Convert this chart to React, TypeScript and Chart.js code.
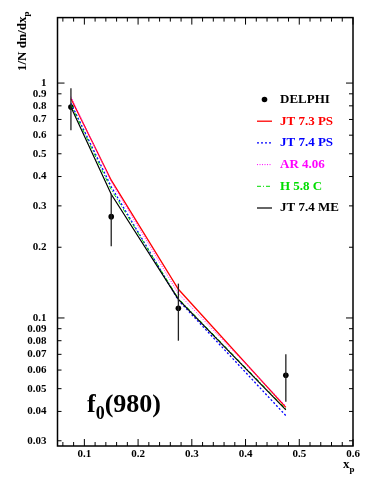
import { useEffect, useRef } from "react";
import { Chart, registerables } from "chart.js";

Chart.register(...registerables);

const xValues = [0.075, 0.15, 0.275, 0.475];
const delphi = [0.79, 0.27, 0.11, 0.057];
const delphiErr = [0.16, 0.068, 0.03, 0.013];
const jt73ps = [0.86, 0.386, 0.1325, 0.0416];
const jt74ps = [0.82, 0.362, 0.119, 0.0384];
const ar406 = [0.875, 0.38, 0.127, 0.0422];
const h58c = [0.81, 0.352, 0.121, 0.041];
const jt74me = [0.79, 0.336, 0.12, 0.0406];

const xTickLabels = [0.1, 0.2, 0.3, 0.4, 0.5, 0.6];
const yTickLabels = [0.03, 0.04, 0.05, 0.06, 0.07, 0.08, 0.09, 0.1, 0.2, 0.3, 0.4, 0.5, 0.6, 0.7, 0.8, 0.9, 1];
const xMinorTicks = [0.06, 0.08, 0.12, 0.14, 0.16, 0.18, 0.22, 0.24, 0.26, 0.28, 0.32, 0.34, 0.36, 0.38, 0.42, 0.44, 0.46, 0.48, 0.52, 0.54, 0.56, 0.58];
const yMajorTicks = [0.1, 1];

const SERIF = "'Liberation Serif', 'DejaVu Serif', serif";

const legendItems = [
  { label: "DELPHI", color: "#000000", kind: "point", dash: [] as number[], width: 1 },
  { label: "JT 7.3 PS", color: "#ff0000", kind: "line", dash: [] as number[], width: 1.3 },
  { label: "JT 7.4 PS", color: "#0000ff", kind: "line", dash: [2, 2], width: 1.3 },
  { label: "AR 4.06", color: "#ff00ff", kind: "line", dash: [1, 1.5], width: 1 },
  { label: "H 5.8 C", color: "#00dd00", kind: "line", dash: [4, 2, 1, 2], width: 1 },
  { label: "JT 7.4 ME", color: "#000000", kind: "line", dash: [] as number[], width: 1.2 },
];

const toPts = (ys: number[]) => xValues.map((x, i) => ({ x, y: ys[i] }));

const framePlugin = {
  id: "framePlugin",
  afterDatasetsDraw(chart: any) {
    const ctx = chart.ctx as CanvasRenderingContext2D;
    const { left, right, top, bottom } = chart.chartArea;
    const xs = chart.scales.x;
    const ys = chart.scales.y;
    ctx.save();
    // error bars
    ctx.strokeStyle = "#222";
    ctx.lineWidth = 1.3;
    xValues.forEach((x, i) => {
      const px = xs.getPixelForValue(x);
      ctx.beginPath();
      ctx.moveTo(px, ys.getPixelForValue(delphi[i] + delphiErr[i]));
      ctx.lineTo(px, ys.getPixelForValue(delphi[i] - delphiErr[i]));
      ctx.stroke();
    });
    // frame
    ctx.strokeStyle = "#000";
    ctx.lineWidth = 1.5;
    ctx.strokeRect(left, top, right - left, bottom - top);
    ctx.lineWidth = 1;
    // x ticks
    const drawX = (v: number, len: number) => {
      const px = xs.getPixelForValue(v);
      ctx.beginPath();
      ctx.moveTo(px, bottom);
      ctx.lineTo(px, bottom - len);
      ctx.moveTo(px, top);
      ctx.lineTo(px, top + len);
      ctx.stroke();
    };
    xTickLabels.forEach((v) => drawX(v, 7));
    xMinorTicks.forEach((v) => drawX(v, 4));
    const drawY = (v: number, len: number) => {
      const py = ys.getPixelForValue(v);
      ctx.beginPath();
      ctx.moveTo(left, py);
      ctx.lineTo(left + len, py);
      ctx.moveTo(right, py);
      ctx.lineTo(right - len, py);
      ctx.stroke();
    };
    yTickLabels.forEach((v) => drawY(v, yMajorTicks.includes(v) ? 7 : 4));

    // legend
    const lx0 = 257;
    const lx1 = 272;
    const tx = 280;
    let ly = 99.5;
    ctx.font = `bold 13px ${SERIF}`;
    ctx.textBaseline = "middle";
    ctx.textAlign = "left";
    legendItems.forEach((it) => {
      if (it.kind === "point") {
        ctx.fillStyle = it.color;
        ctx.beginPath();
        ctx.arc((lx0 + lx1) / 2, ly, 2.8, 0, Math.PI * 2);
        ctx.fill();
      } else {
        ctx.strokeStyle = it.color;
        ctx.lineWidth = it.width;
        ctx.setLineDash(it.dash);
        ctx.beginPath();
        ctx.moveTo(lx0, ly);
        ctx.lineTo(lx1, ly);
        ctx.stroke();
        ctx.setLineDash([]);
      }
      ctx.fillStyle = it.color;
      ctx.fillText(it.label, tx, ly);
      ly += 21.7;
    });

    // y title
    ctx.save();
    ctx.translate(26, 71);
    ctx.rotate(-Math.PI / 2);
    ctx.textBaseline = "alphabetic";
    ctx.fillStyle = "#000";
    ctx.font = `bold 13px ${SERIF}`;
    const yt = "1/N dn/dx";
    ctx.fillText(yt, 0, 0);
    const w = ctx.measureText(yt).width;
    ctx.font = `bold 9px ${SERIF}`;
    ctx.fillText("p", w, 3);
    ctx.restore();

    // x title
    ctx.textBaseline = "alphabetic";
    ctx.fillStyle = "#000";
    ctx.font = `bold 13px ${SERIF}`;
    ctx.fillText("x", 343, 468);
    ctx.font = `bold 9px ${SERIF}`;
    ctx.fillText("p", 349.5, 472);

    // f0(980)
    ctx.font = `bold 26px ${SERIF}`;
    ctx.fillText("f", 87, 412);
    const fw = ctx.measureText("f").width;
    ctx.font = `bold 18px ${SERIF}`;
    ctx.fillText("0", 87 + fw, 419);
    const zw = ctx.measureText("0").width;
    ctx.font = `bold 26px ${SERIF}`;
    ctx.fillText("(980)", 87 + fw + zw, 412);

    ctx.restore();
  },
};

export default function App() {
  const ref = useRef<HTMLCanvasElement | null>(null);
  useEffect(() => {
    if (!ref.current) return;
    const chart = new Chart(ref.current, {
      type: "line",
      data: {
        datasets: [
          {
            label: "JT 7.4 ME",
            data: toPts(jt74me),
            borderColor: "#000000",
            borderWidth: 1.2,
            pointRadius: 0,
            fill: false,
          },
          {
            label: "H 5.8 C",
            data: toPts(h58c),
            borderColor: "#00dd00",
            borderWidth: 1,
            borderDash: [4, 2, 1, 2],
            pointRadius: 0,
            fill: false,
          },
          {
            label: "AR 4.06",
            data: toPts(ar406),
            borderColor: "#ff00ff",
            borderWidth: 1,
            borderDash: [1, 1.5],
            pointRadius: 0,
            fill: false,
          },
          {
            label: "JT 7.4 PS",
            data: toPts(jt74ps),
            borderColor: "#0000ff",
            borderWidth: 1.3,
            borderDash: [2, 2],
            pointRadius: 0,
            fill: false,
          },
          {
            label: "JT 7.3 PS",
            data: toPts(jt73ps),
            borderColor: "#ff0000",
            borderWidth: 1.3,
            pointRadius: 0,
            fill: false,
          },
          {
            label: "DELPHI",
            data: toPts(delphi),
            showLine: false,
            borderColor: "#000",
            backgroundColor: "#000",
            pointRadius: 2.8,
            pointBorderWidth: 0,
          },
        ],
      },
      options: {
        responsive: false,
        animation: false,
        layout: { padding: { top: 13, right: 29, left: 0, bottom: 0 } },
        plugins: { legend: { display: false }, tooltip: { enabled: false } },
        scales: {
          x: {
            type: "linear",
            min: 0.05,
            max: 0.6,
            grid: { display: false, drawTicks: false, tickLength: 0 },
            border: { display: false },
            afterBuildTicks: (s: any) => {
              s.ticks = xTickLabels.map((v) => ({ value: v }));
            },
            afterFit: (s: any) => {
              s.height = 48;
            },
            ticks: {
              padding: 2,
              maxRotation: 0,
              autoSkip: false,
              color: "#000",
              font: { family: SERIF, size: 11, weight: "bold" },
              callback: (v: any) => String(v),
            },
          },
          y: {
            type: "logarithmic",
            min: 0.0285,
            max: 1.9,
            grid: { display: false, drawTicks: false, tickLength: 0 },
            border: { display: false },
            afterBuildTicks: (s: any) => {
              s.ticks = yTickLabels.map((v) => ({ value: v }));
            },
            afterFit: (s: any) => {
              s.width = 57.5;
            },
            ticks: {
              padding: 11,
              autoSkip: false,
              color: "#000",
              font: { family: SERIF, size: 11, weight: "bold" },
              callback: (v: any) => String(v),
            },
          },
        },
      },
      plugins: [framePlugin],
    } as any);
    return () => chart.destroy();
  }, []);
  return (
    <div style={{ position: "fixed", left: 0, top: 0, width: 382, height: 494, background: "#fff" }}>
      <canvas ref={ref} width={382} height={494} style={{ width: 382, height: 494, display: "block" }} />
    </div>
  );
}
